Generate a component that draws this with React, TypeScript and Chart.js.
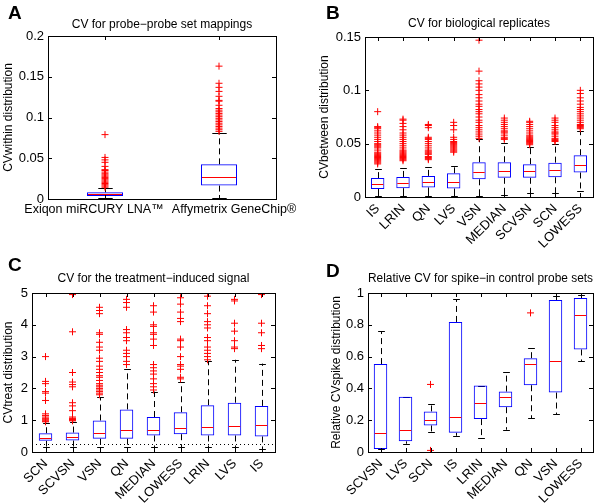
import React, { useEffect, useRef } from 'react';
import { Chart, registerables } from 'chart.js';

Chart.register(...registerables);

const FONT = '"Liberation Sans", Arial, Helvetica, sans-serif';

// ---------- Panel A ----------
const catsA = ['Exiqon miRCURY LNA™', 'Affymetrix GeneChip®'];
const loA = [0.001, 0.0015];
const q1A = [0.0037, 0.0165];
const medA = [0.0058, 0.0275];
const q3A = [0.0082, 0.0425];
const hiA = [0.0135, 0.0815];
const outA = [
  [0.0145, 0.016, 0.0175, 0.019, 0.0205, 0.022, 0.0235, 0.025, 0.0265, 0.028, 0.0295, 0.031, 0.033, 0.035, 0.036, 0.04, 0.045, 0.048, 0.051, 0.079],
  [0.083, 0.085, 0.087, 0.089, 0.091, 0.093, 0.095, 0.097, 0.099, 0.101, 0.103, 0.105, 0.107, 0.109, 0.111, 0.115, 0.12, 0.121, 0.126, 0.132, 0.137, 0.142, 0.163],
];
const yTicksA = [0, 0.05, 0.1, 0.15, 0.2];
const yTickLabelsA = ['0', '0.05', '0.1', '0.15', '0.2'];

// ---------- Panel B ----------
const catsB = ['IS', 'LRIN', 'QN', 'LVS', 'VSN', 'MEDIAN', 'SCVSN', 'SCN', 'LOWESS'];
const loB = [0.001, 0.001, 0.001, 0.001, 0.0013, 0.002, 0.0035, 0.0035, 0.0056];
const q1B = [0.0075, 0.0083, 0.009, 0.008, 0.0166, 0.018, 0.018, 0.0185, 0.023];
const medB = [0.0125, 0.013, 0.014, 0.014, 0.0233, 0.0243, 0.0245, 0.0251, 0.0301];
const q3B = [0.0177, 0.0188, 0.0198, 0.0222, 0.0326, 0.0326, 0.0308, 0.0322, 0.0392];
const hiB = [0.026, 0.027, 0.028, 0.029, 0.054, 0.051, 0.047, 0.05, 0.062];
const outB = [
  [0.031, 0.032, 0.033, 0.034, 0.035, 0.036, 0.037, 0.038, 0.039, 0.04, 0.041, 0.042, 0.044, 0.046, 0.047, 0.048, 0.049, 0.05, 0.052, 0.054, 0.056, 0.058, 0.06, 0.062, 0.064, 0.065, 0.066, 0.08],
  [0.034, 0.035, 0.036, 0.037, 0.038, 0.039, 0.04, 0.041, 0.042, 0.043, 0.044, 0.046, 0.048, 0.05, 0.052, 0.054, 0.056, 0.058, 0.06, 0.063, 0.066, 0.069, 0.072, 0.073],
  [0.035, 0.036, 0.037, 0.038, 0.04, 0.041, 0.042, 0.043, 0.044, 0.046, 0.048, 0.05, 0.052, 0.054, 0.055, 0.056, 0.065, 0.067, 0.068],
  [0.042, 0.043, 0.044, 0.045, 0.046, 0.047, 0.048, 0.049, 0.05, 0.051, 0.052, 0.054, 0.056, 0.063, 0.067, 0.07],
  [0.055, 0.057, 0.059, 0.061, 0.063, 0.065, 0.067, 0.07, 0.072, 0.075, 0.078, 0.08, 0.082, 0.085, 0.087, 0.09, 0.093, 0.096, 0.1, 0.103, 0.106, 0.109, 0.118, 0.147],
  [0.054, 0.055, 0.056, 0.058, 0.06, 0.061, 0.062, 0.064, 0.066, 0.068, 0.07, 0.072, 0.074],
  [0.049, 0.05, 0.051, 0.052, 0.053, 0.054, 0.055, 0.056, 0.057, 0.058, 0.06, 0.062, 0.064, 0.066, 0.068, 0.07, 0.071],
  [0.052, 0.053, 0.054, 0.055, 0.057, 0.059, 0.06, 0.061, 0.063, 0.065, 0.067, 0.07, 0.072, 0.074],
  [0.064, 0.065, 0.066, 0.067, 0.068, 0.07, 0.072, 0.074, 0.076, 0.078, 0.08, 0.082, 0.084, 0.087, 0.09, 0.093, 0.097, 0.1],
];
const yTicksB = [0, 0.05, 0.1, 0.15];
const yTickLabelsB = ['0', '0.05', '0.1', '0.15'];

// ---------- Panel C ----------
const catsC = ['SCN', 'SCVSN', 'VSN', 'QN', 'MEDIAN', 'LOWESS', 'LRIN', 'LVS', 'IS'];
const loC = [0.17, 0.17, 0.15, 0.15, 0.15, 0.15, 0.15, 0.15, 0.1];
const q1C = [0.35, 0.36, 0.42, 0.42, 0.52, 0.56, 0.52, 0.52, 0.49];
const medC = [0.45, 0.46, 0.59, 0.69, 0.68, 0.77, 0.79, 0.82, 0.85];
const q3C = [0.59, 0.61, 0.99, 1.34, 1.1, 1.25, 1.47, 1.55, 1.45];
const hiC = [0.92, 0.95, 1.72, 2.6, 1.9, 2.2, 2.85, 2.9, 2.78];
const outC = [
  [0.95, 0.97, 1.0, 1.03, 1.06, 1.1, 1.15, 1.2, 1.62, 1.85, 1.9, 2.15, 2.22, 3.0],
  [0.98, 1.0, 1.02, 1.04, 1.06, 1.1, 1.3, 1.45, 1.55, 2.05, 2.12, 2.2, 2.5, 3.78, 4.95],
  [1.8, 1.85, 1.9, 1.95, 2.0, 2.05, 2.1, 2.15, 2.25, 2.35, 2.4, 2.5, 2.6, 2.7, 2.85, 2.95, 3.2, 3.3, 3.45, 3.7, 3.75, 4.35, 4.45, 4.55],
  [2.75, 2.85, 3.0, 3.1, 3.2, 3.5, 3.6, 3.75, 3.85, 4.55, 4.7, 4.8],
  [1.95, 2.05, 2.15, 2.3, 2.45, 2.55, 2.65, 2.75, 3.35, 3.55, 3.7, 3.75, 3.95, 4.0, 4.4, 4.6],
  [2.3, 2.35, 2.6, 2.7, 2.75, 3.0, 3.3, 3.5, 3.55, 4.1, 4.2, 4.4, 4.65, 4.85],
  [2.9, 3.0, 3.1, 3.2, 3.3, 3.5, 3.6, 3.9, 4.0, 4.1, 4.35, 4.6, 4.9],
  [3.25, 3.3, 3.5, 3.8, 4.05, 4.75, 4.8],
  [3.25, 3.35, 3.75, 4.05, 4.95],
];
const yTicksC = [0, 1, 2, 3, 4, 5];
const yTickLabelsC = ['0', '1', '2', '3', '4', '5'];
const refLineC = 0.25;

// ---------- Panel D ----------
const catsD = ['SCVSN', 'LVS', 'SCN', 'IS', 'LRIN', 'MEDIAN', 'QN', 'VSN', 'LOWESS'];
const loD = [0.019, 0.052, 0.123, 0.102, 0.09, 0.14, 0.211, 0.236, 0.572];
const q1D = [0.019, 0.067, 0.167, 0.121, 0.207, 0.282, 0.42, 0.374, 0.645];
const medD = [0.121, 0.138, 0.2, 0.219, 0.309, 0.349, 0.553, 0.572, 0.864];
const q3D = [0.553, 0.347, 0.255, 0.818, 0.418, 0.38, 0.59, 0.956, 0.968];
const hiD = [0.76, 0.347, 0.3, 0.96, 0.418, 0.505, 0.651, 0.98, 0.99];
const outD = [[], [], [0.01, 0.425], [], [], [], [0.875], [], []];
const yTicksD = [0, 0.2, 0.4, 0.6, 0.8, 1];
const yTickLabelsD = ['0', '0.2', '0.4', '0.6', '0.8', '1'];

type Panel = {
  letter: string;
  title: string;
  yTitle: string;
  cats: string[];
  lo: number[];
  q1: number[];
  med: number[];
  q3: number[];
  hi: number[];
  out: number[][];
  yTicks: number[];
  yTickLabels: string[];
  yMax: number;
  refLine?: number;
  // layout
  box: { left: number; top: number; w: number; h: number };
  plot: { l: number; r: number; t: number; b: number };
  titleTop: number;
  yTitleX: number;
  rot: number;
  xPad: number;
  barPct: number;
  capFrac: number;
  labelShift?: number[];
  letterPos: { left: number; top: number };
};

const panels: Panel[] = [
  {
    letter: 'A', title: 'CV for probe\u2212probe set mappings', yTitle: 'CVwithin distribution',
    cats: catsA, lo: loA, q1: q1A, med: medA, q3: q3A, hi: hiA, out: outA,
    yTicks: yTicksA, yTickLabels: yTickLabelsA, yMax: 0.2,
    box: { left: 0, top: 0, w: 300, h: 250 }, plot: { l: 48, r: 276, t: 36, b: 199 },
    titleTop: 17.3, yTitleX: 9, rot: 0, xPad: 3, barPct: 0.316, capFrac: 0.4,
    labelShift: [-11, 15],
    letterPos: { left: 8, top: 3 },
  },
  {
    letter: 'B', title: 'CV for biological replicates', yTitle: 'CVbetween distribution',
    cats: catsB, lo: loB, q1: q1B, med: medB, q3: q3B, hi: hiB, out: outB,
    yTicks: yTicksB, yTickLabels: yTickLabelsB, yMax: 0.15,
    box: { left: 300, top: 0, w: 300, h: 250 }, plot: { l: 65, r: 293, t: 37, b: 197 },
    titleTop: 16.3, yTitleX: 25, rot: 45, xPad: 4, barPct: 0.53, capFrac: 0.5,
    letterPos: { left: 326, top: 3 },
  },
  {
    letter: 'C', title: 'CV for the treatment\u2212induced signal', yTitle: 'CVtreat distribution',
    cats: catsC, lo: loC, q1: q1C, med: medC, q3: q3C, hi: hiC, out: outC,
    yTicks: yTicksC, yTickLabels: yTickLabelsC, yMax: 5, refLine: refLineC,
    box: { left: 0, top: 250, w: 300, h: 253 }, plot: { l: 32, r: 275, t: 43, b: 202 },
    titleTop: 21.8, yTitleX: 8.5, rot: 45, xPad: 4, barPct: 0.5, capFrac: 0.5,
    letterPos: { left: 8, top: 255 },
  },
  {
    letter: 'D', title: 'Relative CV for spike\u2212in control probe sets', yTitle: 'Relative CVspike distribution',
    cats: catsD, lo: loD, q1: q1D, med: medD, q3: q3D, hi: hiD, out: outD,
    yTicks: yTicksD, yTickLabels: yTickLabelsD, yMax: 1,
    box: { left: 300, top: 250, w: 300, h: 253 }, plot: { l: 68, r: 293, t: 43, b: 202 },
    titleTop: 21.8, yTitleX: 37, rot: 45, xPad: 4, barPct: 0.54, capFrac: 0.5,
    letterPos: { left: 326, top: 261 },
  },
];

const TICK_FONT = 13;
const h = (v: number) => Math.round(v) + 0.5;

function makePlugin(p: Panel) {
  return {
    id: 'boxParts' + p.letter,
    beforeDatasetsDraw(chart: any) {
      const ctx = chart.ctx;
      const xs = chart.scales.x;
      const ys = chart.scales.y;
      const meta = chart.getDatasetMeta(0);
      ctx.save();
      ctx.strokeStyle = '#000';
      ctx.lineWidth = 1;
      p.cats.forEach((_, i) => {
        const x = h(xs.getPixelForValue(i));
        const bw = meta.data[i] ? meta.data[i].width : 10;
        ctx.setLineDash([6, 4]);
        ctx.beginPath();
        ctx.moveTo(x, ys.getPixelForValue(p.q3[i]));
        ctx.lineTo(x, ys.getPixelForValue(p.hi[i]));
        ctx.moveTo(x, ys.getPixelForValue(p.q1[i]));
        ctx.lineTo(x, ys.getPixelForValue(p.lo[i]));
        ctx.stroke();
        ctx.setLineDash([]);
        const cw = bw * p.capFrac;
        ctx.beginPath();
        const yh = h(ys.getPixelForValue(p.hi[i]));
        const yl = h(ys.getPixelForValue(p.lo[i]));
        ctx.moveTo(x - cw / 2, yh);
        ctx.lineTo(x + cw / 2, yh);
        ctx.moveTo(x - cw / 2, yl);
        ctx.lineTo(x + cw / 2, yl);
        ctx.stroke();
      });
      ctx.restore();
    },
    afterDatasetsDraw(chart: any) {
      const ctx = chart.ctx;
      const xs = chart.scales.x;
      const ys = chart.scales.y;
      const meta = chart.getDatasetMeta(0);
      ctx.save();
      ctx.strokeStyle = '#ff0000';
      ctx.lineWidth = 1;
      p.cats.forEach((_, i) => {
        const x = xs.getPixelForValue(i);
        const bw = meta.data[i] ? meta.data[i].width : 10;
        const y = h(ys.getPixelForValue(p.med[i]));
        ctx.beginPath();
        ctx.moveTo(x - bw / 2 + 1, y);
        ctx.lineTo(x + bw / 2 - 1, y);
        ctx.stroke();
      });
      ctx.restore();
    },
    afterDraw(chart: any) {
      const ctx = chart.ctx;
      const { left, right, top, bottom } = chart.chartArea;
      const xs = chart.scales.x;
      const ys = chart.scales.y;
      ctx.save();
      ctx.strokeStyle = '#000';
      ctx.lineWidth = 1;
      if (p.refLine !== undefined) {
        ctx.setLineDash([1, 3]);
        ctx.beginPath();
        const yr = h(ys.getPixelForValue(p.refLine));
        ctx.moveTo(left, yr);
        ctx.lineTo(right, yr);
        ctx.stroke();
        ctx.setLineDash([]);
      }
      ctx.strokeRect(h(left), h(top), Math.round(right) - Math.round(left), Math.round(bottom) - Math.round(top));
      const tl = 4;
      ctx.beginPath();
      p.yTicks.forEach((v) => {
        const y = h(ys.getPixelForValue(v));
        ctx.moveTo(left, y);
        ctx.lineTo(left + tl, y);
        ctx.moveTo(right, y);
        ctx.lineTo(right - tl, y);
      });
      p.cats.forEach((_, i) => {
        const x = h(xs.getPixelForValue(i));
        ctx.moveTo(x, bottom);
        ctx.lineTo(x, bottom - tl);
        ctx.moveTo(x, top);
        ctx.lineTo(x, top + tl);
      });
      ctx.stroke();
      // horizontal category labels with per-label shift (panel A)
      if (p.labelShift) {
        ctx.fillStyle = '#000';
        ctx.font = `12.5px ${FONT}`;
        ctx.textAlign = 'center';
        ctx.textBaseline = 'middle';
        p.cats.forEach((c, i) => {
          const x = xs.getPixelForValue(i) + p.labelShift![i];
          ctx.fillText(c, x, bottom + p.xPad + 7.5);
        });
      }
      ctx.restore();
    },
  };
}

function BoxChart({ p }: { p: Panel }) {
  const ref = useRef<HTMLCanvasElement>(null);
  useEffect(() => {
    if (!ref.current) return;
    const outliers = p.out.flatMap((arr, i) => arr.map((v) => ({ x: p.cats[i], y: v })));
    const chart = new Chart(ref.current, {
      type: 'bar',
      data: {
        labels: p.cats,
        datasets: [
          {
            type: 'bar',
            data: p.cats.map((_, i) => [p.q1[i], p.q3[i]]),
            backgroundColor: 'rgba(0,0,0,0)',
            borderColor: '#0000ff',
            borderWidth: 1,
            borderSkipped: false,
            barPercentage: p.barPct,
            categoryPercentage: 1,
            order: 2,
          } as any,
          {
            type: 'scatter',
            data: outliers,
            pointStyle: 'cross',
            pointRadius: 3.5,
            borderColor: '#ff0000',
            backgroundColor: '#ff0000',
            borderWidth: 1,
            order: 1,
          } as any,
        ],
      },
      options: {
        responsive: false,
        animation: false,
        events: [],
        layout: { padding: { left: 0, right: p.box.w - p.plot.r, top: 0, bottom: 0 } },
        plugins: {
          legend: { display: false },
          tooltip: { enabled: false },
          title: {
            display: true,
            text: p.title,
            fullSize: false,
            color: '#000',
            font: { family: FONT, size: 12, weight: 'normal', lineHeight: 1.2 },
            padding: { top: p.titleTop, bottom: p.plot.t - p.titleTop - 14.4 },
          },
        },
        scales: {
          x: {
            type: 'category',
            offset: true,
            grid: { display: false, drawTicks: false },
            border: { display: false },
            ticks: {
              display: !p.labelShift,
              autoSkip: false,
              maxRotation: p.rot,
              minRotation: p.rot,
              padding: p.xPad,
              color: '#000',
              font: { family: FONT, size: TICK_FONT },
            },
            afterFit: (s: any) => {
              s.height = p.box.h - p.plot.b;
            },
          },
          y: {
            type: 'linear',
            min: 0,
            max: p.yMax,
            grid: { display: false, drawTicks: false },
            border: { display: false },
            ticks: {
              padding: 4,
              color: '#000',
              font: { family: FONT, size: TICK_FONT },
              callback: (_v: any, i: number) => p.yTickLabels[i],
            },
            afterBuildTicks: (s: any) => {
              s.ticks = p.yTicks.map((v) => ({ value: v }));
            },
            afterFit: (s: any) => {
              s.width = p.plot.l;
            },
            title: {
              display: true,
              text: p.yTitle,
              color: '#000',
              font: { family: FONT, size: 12, lineHeight: 1.2 },
              padding: { top: p.yTitleX - 7.2, bottom: 0 },
            },
          },
        },
      } as any,
      plugins: [makePlugin(p)],
    });
    return () => chart.destroy();
  }, [p]);
  return (
    <canvas
      ref={ref}
      width={p.box.w}
      height={p.box.h}
      style={{ position: 'absolute', left: p.box.left, top: p.box.top, width: p.box.w, height: p.box.h }}
    />
  );
}

export default function App() {
  return (
    <div style={{ position: 'absolute', left: 0, top: 0, width: 600, height: 503, background: '#fff', overflow: 'hidden' }}>
      {panels.map((p) => (
        <BoxChart key={p.letter} p={p} />
      ))}
      {panels.map((p) => (
        <div
          key={'l' + p.letter}
          style={{
            position: 'absolute',
            left: p.letterPos.left,
            top: p.letterPos.top,
            fontFamily: FONT,
            fontWeight: 'bold',
            fontSize: 19,
            lineHeight: '19px',
            color: '#000',
          }}
        >
          {p.letter}
        </div>
      ))}
    </div>
  );
}
